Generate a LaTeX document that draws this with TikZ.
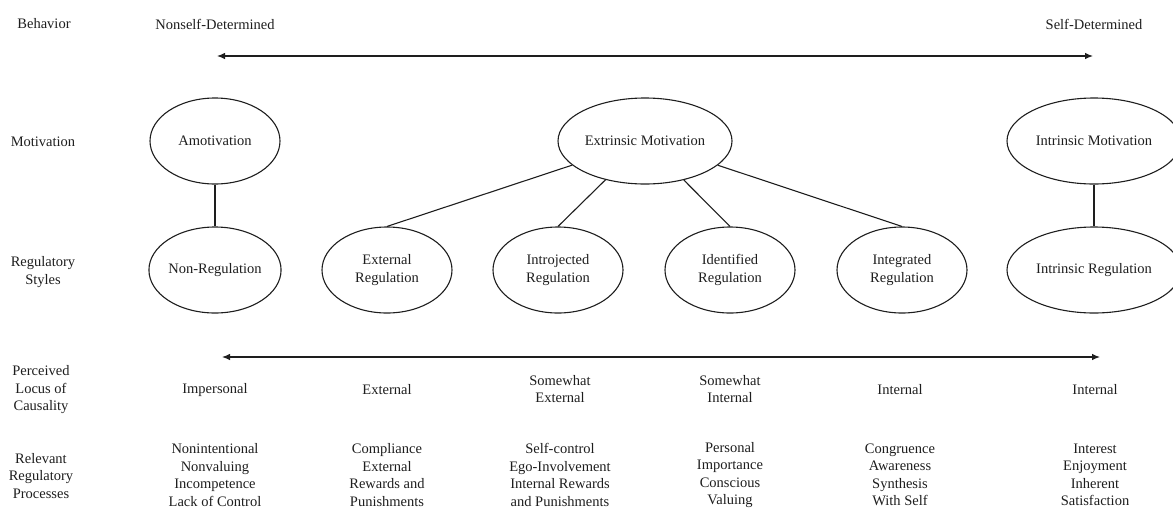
\documentclass[tikz,border=0pt]{standalone}
\usepackage{fontspec}
\setmainfont{Liberation Serif}
\usetikzlibrary{arrows.meta,shapes}
\definecolor{ink}{RGB}{30,30,30}

\begin{document}
\begin{tikzpicture}[x=1pt,y=-1pt,font=\fontsize{14.5}{17.5}\selectfont,
  every node/.style={text=ink,align=center},
  bub/.style={ellipse,draw=ink,line width=1.1pt,inner sep=0pt,minimum width=130,minimum height=86},
  widebub/.style={bub,minimum width=174},
  link/.style={draw=ink,line width=1.1pt},
  tip/.style={{Latex[length=8pt,width=6.5pt]}-{Latex[length=8pt,width=6.5pt]}}]
\useasboundingbox (0,0) rectangle (1173,509);
\node (beh) at (44,24) {Behavior};
\node (mot) at (43,142) {Motivation};
\node (sty) at (43,272) {Regulatory\\Styles};
\node (loc) at (41,390) {Perceived\\Locus of\\Causality};
\node (proc) at (41,476) {Relevant\\Regulatory\\Processes};
\node (nsd) at (215,24) {Nonself-Determined};
\node (sd) at (1094,24) {Self-Determined};
\coordinate (t1) at (217,56);
\coordinate (t2) at (1093,56);
\draw[link, tip] (t1) -- (t2);

\node[bub] (amo) at (215,141) {Amotivation};
\node[widebub] (extmot) at (645,141) {Extrinsic Motivation};
\node[widebub] (intmot) at (1094,141) {Intrinsic Motivation};
\node[bub] (nonreg) at (215,270) {Non-Regulation};
\node[bub] (extreg) at (387,270) {External\\Regulation};
\node[bub] (introreg) at (558,270) {Introjected\\Regulation};
\node[bub] (idreg) at (730,270) {Identified\\Regulation};
\node[bub] (integreg) at (902,270) {Integrated\\Regulation};
\node[widebub] (intreg) at (1094,270) {Intrinsic Regulation};
\draw[link] (amo) -- (nonreg);
\draw[link] (intmot) -- (intreg);
\draw[link] (extmot) -- (extreg.north);
\draw[link] (extmot) -- (introreg.north);
\draw[link] (extmot) -- (idreg.north);
\draw[link] (extmot) -- (integreg.north);

\coordinate (b1) at (222,357);
\coordinate (b2) at (1100,357);
\draw[link, tip] (b1) -- (b2);
\node (l1) at (215,390) {Impersonal};
\node (l2) at (387,390) {External};
\node (l3) at (560,389) {Somewhat\\External};
\node (l4) at (730,389) {Somewhat\\Internal};
\node (l5) at (900,390) {Internal};
\node (l6) at (1095,390) {Internal};
\node (p1) at (215,475) {Nonintentional\\Nonvaluing\\Incompetence\\Lack of Control};
\node (p2) at (387,475) {Compliance\\External\\Rewards and\\Punishments};
\node (p3) at (560,475) {Self-control\\Ego-Involvement\\Internal Rewards\\and Punishments};
\node (p4) at (730,475) {Personal\\Importance\\Conscious\\Valuing};
\node (p5) at (900,475) {Congruence\\Awareness\\Synthesis\\With Self};
\node (p6) at (1095,475) {Interest\\Enjoyment\\Inherent\\Satisfaction};
\end{tikzpicture}
\end{document}
